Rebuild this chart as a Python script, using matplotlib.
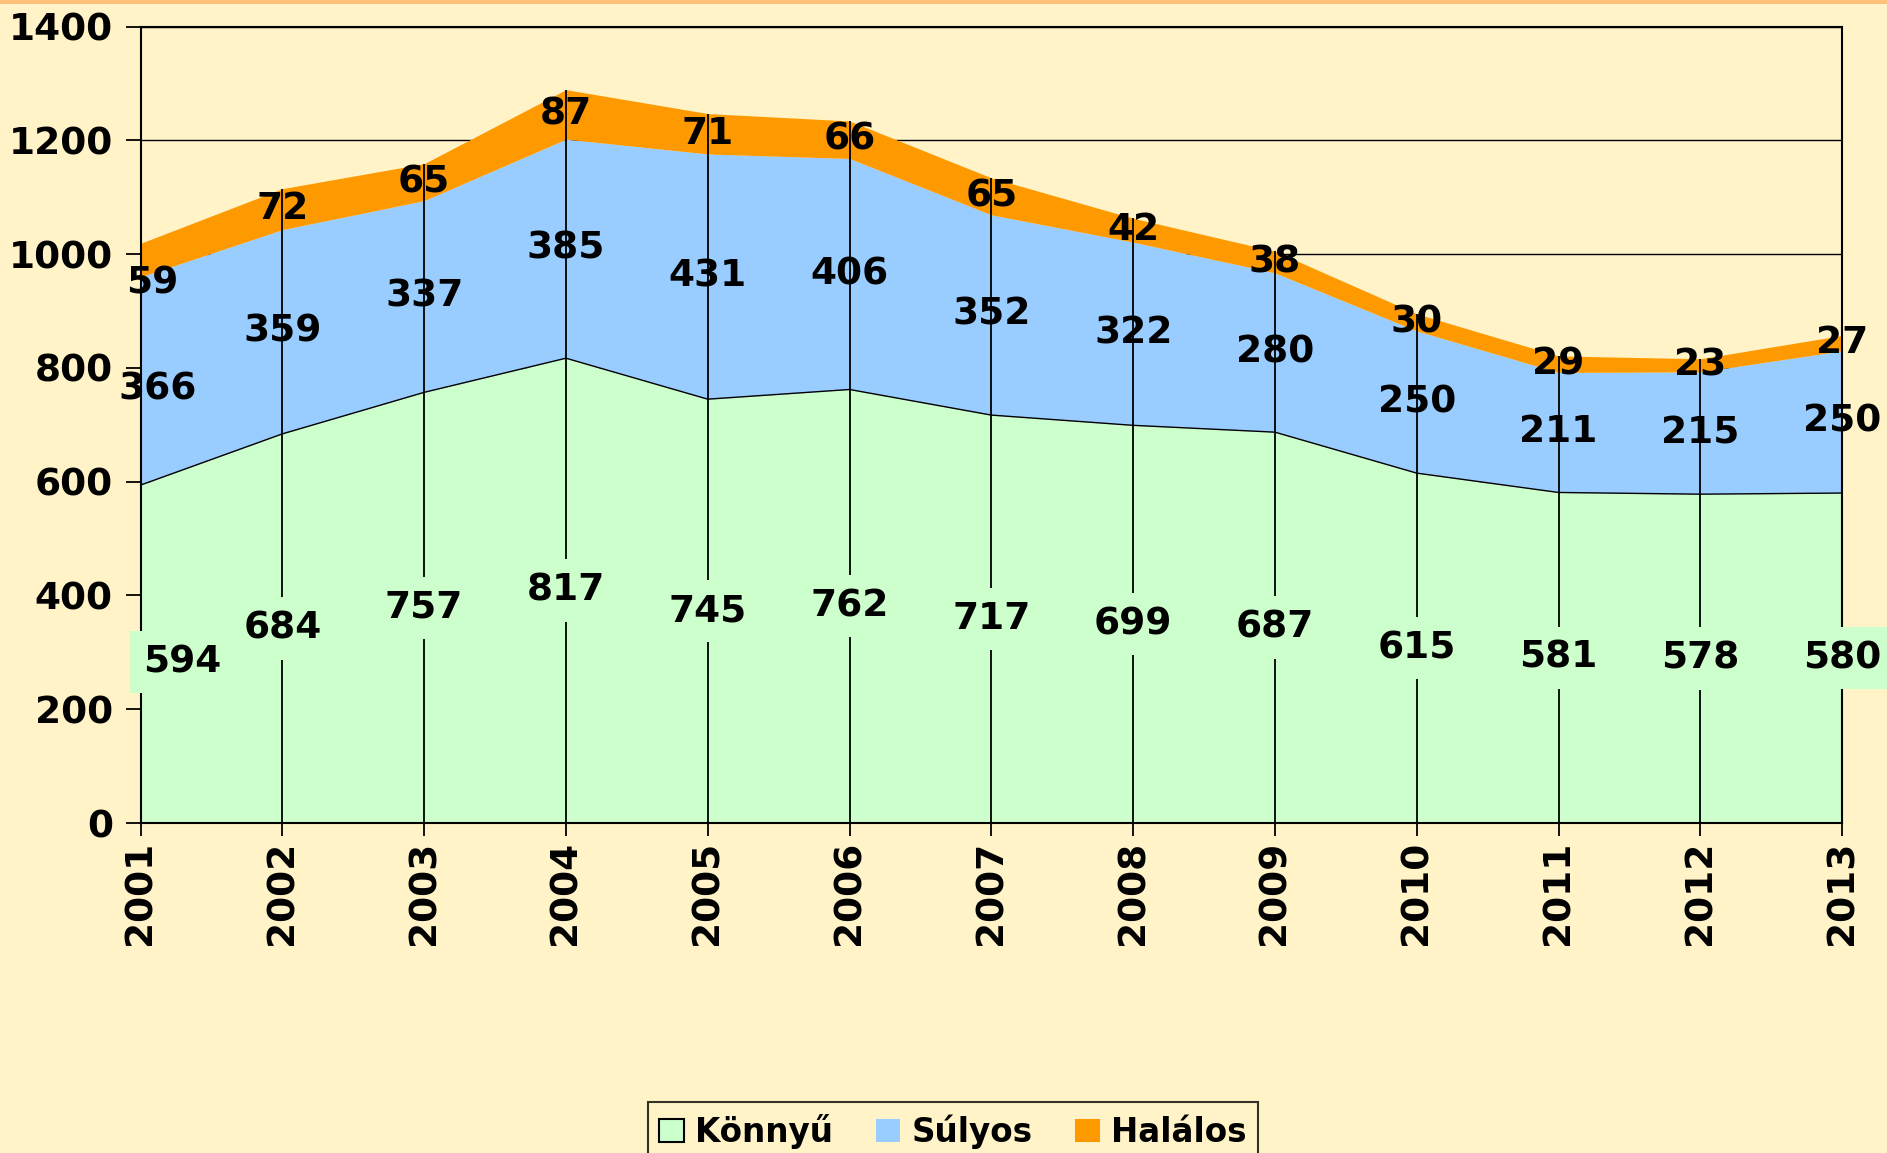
import matplotlib.pyplot as plt
from matplotlib.patches import Rectangle, Patch

years = [2001, 2002, 2003, 2004, 2005, 2006, 2007, 2008, 2009, 2010, 2011, 2012, 2013]
konnyu = [594, 684, 757, 817, 745, 762, 717, 699, 687, 615, 581, 578, 580]
sulyos = [366, 359, 337, 385, 431, 406, 352, 322, 280, 250, 211, 215, 250]
halalos = [59, 72, 65, 87, 71, 66, 65, 42, 38, 30, 29, 23, 27]
series_names = ["Könnyű", "Súlyos", "Halálos"]

bg = "#FFF3C7"
c_green = "#CCFFCC"
c_blue = "#99CCFF"
c_orange = "#FF9900"

plt.rcParams['font.family'] = ['DejaVu Sans']
plt.rcParams['font.weight'] = 'bold'

fig = plt.figure(figsize=(18.87, 11.53), dpi=100, facecolor=bg)
ax = fig.add_axes([0.0745, 0.2862, 0.9017, 0.6908])
ax.set_facecolor("none")

# thin orange strip along the top edge
fig.patches.append(Rectangle((0, 0.9965), 1, 0.0035, transform=fig.transFigure,
                             facecolor="#FFC07A", edgecolor="none"))

lvl1 = konnyu
lvl2 = [a + b for a, b in zip(konnyu, sulyos)]
lvl3 = [a + b for a, b in zip(lvl2, halalos)]

ax.fill_between(years, 0, lvl1, color=c_green, lw=0, zorder=2)
ax.fill_between(years, lvl1, lvl2, color=c_blue, lw=0, zorder=2)
ax.fill_between(years, lvl2, lvl3, color=c_orange, lw=0, zorder=2)
ax.plot(years, lvl1, color="black", lw=1.0, zorder=3)

# drop lines
ax.vlines(years, 0, lvl3, color="black", lw=1.3, zorder=4)

fs = 27
ax.set_xlim(2001, 2013)
ax.set_ylim(0, 1400)
ax.set_yticks(range(0, 1401, 200))
ax.set_xticks(years)
ax.set_xticklabels([str(y) for y in years], rotation=90, fontsize=fs, fontweight='bold')
ax.set_yticklabels([str(v) for v in range(0, 1401, 200)], fontsize=fs, fontweight='bold')
ax.tick_params(axis='y', length=11, width=1.3, pad=9, direction='out')
ax.tick_params(axis='x', length=9, width=1.3, pad=4, direction='out')
ax.yaxis.grid(True, color="black", lw=1.0, zorder=1)
ax.set_axisbelow(True)
for s in ax.spines.values():
    s.set_linewidth(1.5)
    s.set_zorder(5)

# data labels, centred in each band
for i, y in enumerate(years):
    dx1, dy1, dx2, dy2, dx3, dy3 = (0, 0, 0, 0, 0, 0)
    if i == 0:
        dx1, dy1, dx2, dy2, dx3, dy3 = (30, -6, 12, -6, 8, -17)
    ax.annotate(str(konnyu[i]), (y, lvl1[i] / 2), xytext=(dx1, dy1), textcoords="offset points",
                ha="center", va="center", fontsize=fs, fontweight="bold", zorder=6,
                bbox=dict(boxstyle="square,pad=0.35", facecolor=c_green, edgecolor="none"))
    ax.annotate(str(sulyos[i]), (y, (lvl1[i] + lvl2[i]) / 2), xytext=(dx2, dy2),
                textcoords="offset points", ha="center", va="center",
                fontsize=fs, fontweight="bold", zorder=6)
    ax.annotate(str(halalos[i]), (y, (lvl2[i] + lvl3[i]) / 2), xytext=(dx3, dy3),
                textcoords="offset points", ha="center", va="center",
                fontsize=fs, fontweight="bold", zorder=6)

handles = [Patch(facecolor=c_green, edgecolor="black", lw=1.5),
           Patch(facecolor=c_blue, edgecolor="none"),
           Patch(facecolor=c_orange, edgecolor="none")]
leg = fig.legend(handles, series_names, loc="upper center", bbox_to_anchor=(0.505, 0.0438),
                 ncol=3, frameon=True, fancybox=False,
                 prop={'weight': 'bold', 'size': 23.5}, handlelength=0.75, handleheight=0.75,
                 handletextpad=0.35, columnspacing=1.3, borderpad=0.35, borderaxespad=0)
leg.get_frame().set_edgecolor("black")
leg.get_frame().set_linewidth(1.5)
leg.get_frame().set_facecolor(bg)

fig.savefig("out.png", dpi=100, facecolor=bg)
